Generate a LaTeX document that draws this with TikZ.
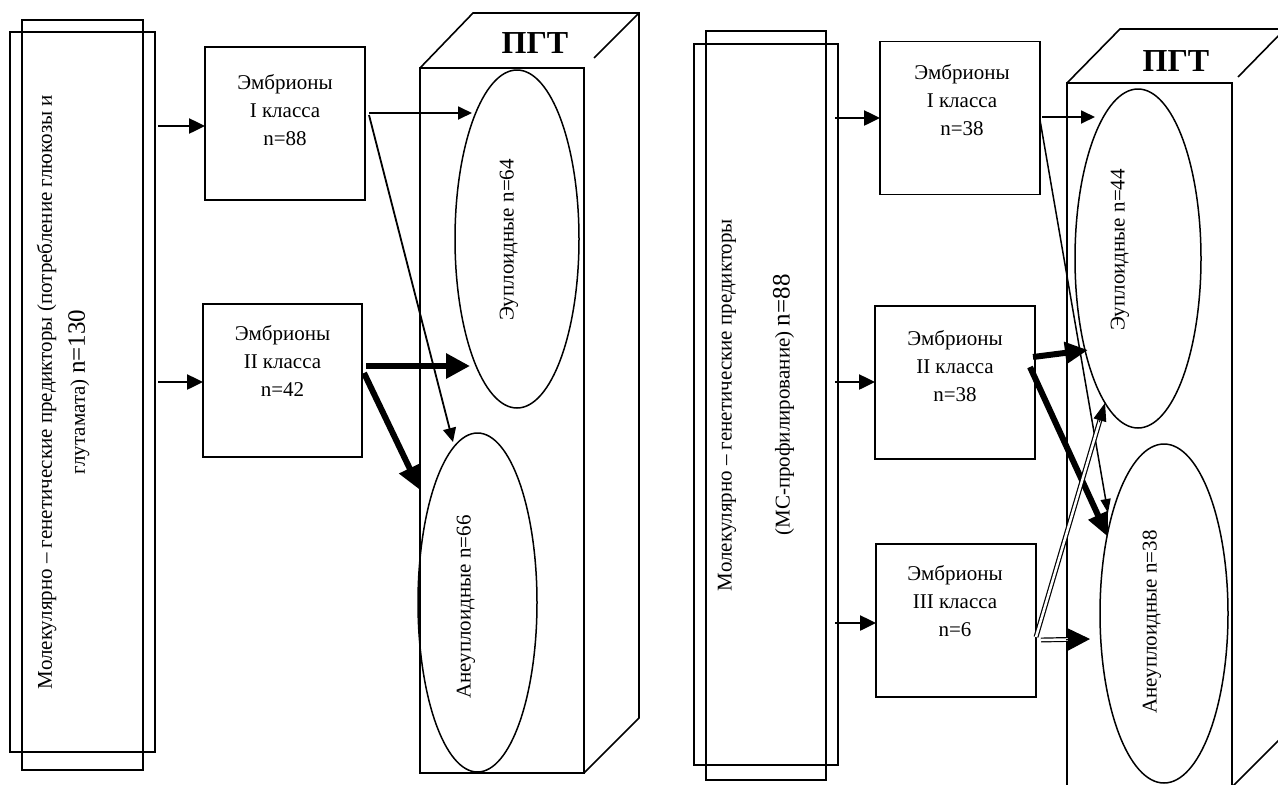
\documentclass[tikz,border=0pt]{standalone}
\usepackage{fontspec}
\setmainfont{Liberation Serif}
\usetikzlibrary{arrows.meta,shapes.geometric,calc}
\begin{document}
\begin{tikzpicture}[x=1pt,y=-1pt,
  every node/.style={inner sep=0pt, outer sep=0pt},
  outerframe/.style={draw, line width=2pt, rectangle},
  innerframe/.style={draw, line width=1.5pt, rectangle},
  classbox/.style={draw, line width=1.6pt, rectangle, minimum width=160pt, minimum height=153pt},
  oval/.style={draw, ellipse, line width=1.5pt},
  cubeline/.style={line width=1.6pt, line join=miter},
  txt/.style={font=\fontsize{21}{28}\selectfont, align=center},
  vtxt/.style={txt, rotate=90},
  pgt/.style={font=\fontsize{32}{38}\selectfont\bfseries},
  feed/.style={line width=2.5pt, -{Triangle[length=16pt,width=15pt]}},
  thinarr/.style={line width=1.8pt, -{Triangle[length=14pt,width=13pt]}},
  thickarr/.style={line width=6pt, -{Triangle[length=24pt,width=24pt]}},
  dblline/.style={double, double distance=2.5pt, line width=1.2pt},
  dbltip/.style={line width=1pt, -{Triangle[length=#1]}},
]
\fill[white] (0,0) rectangle (1278,785);
\useasboundingbox (0,0) rectangle (1278,785);
\clip (0,0) rectangle (1278,785);

% ---------------- left panel ----------------
\node[innerframe, minimum width=121pt, minimum height=750pt] (lB) at (82.5,395) {};
\node[outerframe, minimum width=145pt, minimum height=720pt] (lA) at (82.5,392) {};
\node[vtxt, font=\fontsize{21}{33}\selectfont] (lAt) at (63,392)
  {Молекулярно – генетические предикторы (потребление глюкозы и\\глутамата) {\fontsize{25}{33}\selectfont n=130}};

\node[classbox] (lb1) at (285,123.5) {};
\node[txt] (lb1t) at (285,110) {Эмбрионы\\I класса\\n=88};
\node[classbox, minimum width=159pt] (lb2) at (282.5,380.5) {};
\node[txt] (lb2t) at (282.5,361) {Эмбрионы\\II класса\\n=42};

% cuboid
\node[draw, line width=1.6pt, rectangle, minimum width=164pt, minimum height=705pt] (lcf) at (502,420.5) {};
\coordinate (lcTL) at (473,13);
\coordinate (lcTR) at (639,13);
\coordinate (lcBR) at (639,718);
\coordinate (lcDg) at (594,58);
\draw[cubeline] (lcf.north west) -- (lcTL) -- (lcTR) -- (lcBR) -- (lcf.south east);
\draw[cubeline] (lcTR) -- (lcDg);
\node[pgt] (lpgt) at (535,43) {ПГТ};

\node[oval, minimum width=124pt, minimum height=338pt] (leu) at (517,239) {};
\node[vtxt] (leut) at (509,240) {Эуплоидные n=64};
\node[oval, minimum width=119pt, minimum height=339pt] (lan) at (477.5,602.5) {};
\node[vtxt] (lant) at (466,607) {Анеуплоидные n=66};

% left arrows
\coordinate (la1s) at (158,126);
\coordinate (la2s) at (158,382);
\draw[feed] (la1s) -- (la1s -| lb1.west);
\draw[feed] (la2s) -- (la2s -| lb2.west);
\coordinate (la3s) at (369,113);
\coordinate (la3e) at (472,113);
\draw[thinarr] (la3s) -- (la3e);
\coordinate (la4s) at (369,115);
\coordinate (la4e) at (453,442);
\draw[thinarr] (la4s) -- (la4e);
\coordinate (la5s) at (366,366);
\coordinate (la5e) at (470,366);
\draw[thickarr] (la5s) -- (la5e);
\coordinate (la6s) at (364,373);
\coordinate (la6e) at (420,490);
\draw[thickarr, -{Triangle[length=24pt,width=22pt]}] (la6s) -- (la6e);

% ---------------- right panel ----------------
\node[innerframe, minimum width=120pt, minimum height=749pt] (rB) at (766,405.5) {};
\node[outerframe, minimum width=144pt, minimum height=721pt] (rA) at (766,404.5) {};
\node[vtxt, font=\fontsize{21}{58}\selectfont] (rAt) at (756,405)
  {Молекулярно – генетические предикторы\\(МС-профилирование) {\fontsize{25}{58}\selectfont n=88}};

\node[classbox] (rc1) at (960,118) {};
\node[txt] (rc1t) at (962,100) {Эмбрионы\\I класса\\n=38};
\node[classbox] (rc2) at (955,382.5) {};
\node[txt] (rc2t) at (955,366) {Эмбрионы\\II класса\\n=38};
\node[classbox] (rc3) at (956,620.5) {};
\node[txt] (rc3t) at (955,601) {Эмбрионы\\III класса\\n=6};

% cuboid
\node[draw, line width=1.6pt, rectangle, minimum width=165pt, minimum height=704pt] (rcf) at (1149.5,435) {};
\coordinate (rcTL) at (1120,29);
\coordinate (rcTR) at (1285,29);
\coordinate (rcDg) at (1238,77);
\coordinate (rcBR) at (1285,734);
\draw[cubeline] (rcf.north west) -- (rcTL) -- (rcTR) -- (rcBR) -- (rcf.south east);
\draw[cubeline] (rcTR) -- (rcDg);
\node[pgt] (rpgt) at (1176,61) {ПГТ};

\node[oval, minimum width=126pt, minimum height=339pt] (reu) at (1138,258.5) {};
\node[vtxt] (reut) at (1120,250) {Эуплоидные n=44};
\node[oval, minimum width=128pt, minimum height=339pt] (ran) at (1164,613.5) {};
\node[vtxt] (rant) at (1152,622) {Анеуплоидные n=38};

% right arrows
\coordinate (rb1s) at (835,118);
\coordinate (rb2s) at (835,382);
\coordinate (rb3s) at (835,623);
\draw[feed] (rb1s) -- (rb1s -| rc1.west);
\draw[feed] (rb2s) -- (rb2s -| rc2.west);
\draw[feed] (rb3s) -- (rb3s -| rc3.west);
\coordinate (rb4s) at (1042,117);
\coordinate (rb4e) at (1095,117);
\draw[thinarr] (rb4s) -- (rb4e);
\coordinate (rb5s) at (1040,120);
\coordinate (rb5e) at (1108,513);
\draw[line width=1.5pt, -{Triangle[length=14pt,width=10pt]}] (rb5s) -- (rb5e);
\coordinate (rb6s) at (1033,357);
\coordinate (rb6e) at (1088,350);
\draw[thickarr, -{Triangle[length=23pt,width=21pt]}] (rb6s) -- (rb6e);
\coordinate (rb7s) at (1030,367);
\coordinate (rb7e) at (1108,537);
\draw[thickarr, -{Triangle[length=24pt,width=20pt]}] (rb7s) -- (rb7e);
% double arrows
\coordinate (rb8s) at (1036,637);
\coordinate (rb8e) at (1105,403);
\draw[dblline, shorten >=14pt] (rb8s) -- (rb8e);
\draw[line width=1pt, -{Triangle[length=18pt,width=13pt]}] ($(rb8e)!20pt!(rb8s)$) -- (rb8e);
\coordinate (rb9s) at (1041,640);
\coordinate (rb9e) at (1090,639);
\draw[dblline, shorten >=18pt] (rb9s) -- (rb9e);
\draw[line width=1pt, -{Triangle[length=22pt,width=22pt]}] ($(rb9e)!24pt!(rb9s)$) -- (rb9e);
\end{tikzpicture}
\end{document}
